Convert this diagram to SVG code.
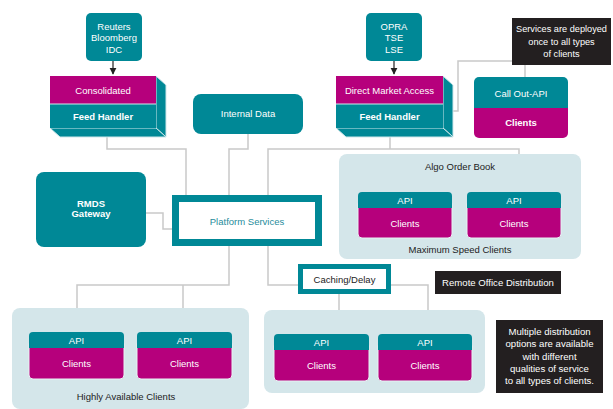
<svg xmlns="http://www.w3.org/2000/svg" width="613" height="409" viewBox="0 0 613 409">
<defs>
<style>
text{font-family:"Liberation Sans",Arial,sans-serif;text-anchor:middle}
.t{fill:#008896}
.m{fill:#b6007c}
.w{fill:#fff;font-size:9.5px}
.ws{fill:#fff;font-size:9.2px}
.wr{fill:#fff;font-size:9.6px}
.wb{fill:#fff;font-size:9.5px;font-weight:bold}
.d{fill:#222;font-size:9.5px}
.blk{fill:#231f20}
.cont{fill:#d4e6ea}
.ext{fill:#008896;stroke:#cfe7eb;stroke-width:1}
.c{fill:none;stroke:#c9c9c9;stroke-width:1.5}
.bx{stroke:#e8f2f4;stroke-width:1}
</style>
<marker id="ah" viewBox="0 0 10 10" refX="9" refY="5" markerWidth="6" markerHeight="6" orient="auto"><path d="M0,0L10,5L0,10z" fill="#222"/></marker>
</defs>
<rect width="613" height="409" fill="#fff"/>

<g id="connectors">
<path class="c" d="M107,137V149H186V195"/>
<path class="c" d="M248,134V149H229V195"/>
<path class="c" d="M519,154V149H268V285H298"/>
<path class="c" d="M390,137V149"/>
<path class="c" d="M453,111H458V61H512"/>
<path class="c" d="M525,65V77"/>
<path class="c" d="M146,213H163V229H172"/>
<path class="c" d="M229,246V285H77V332"/>
<path class="c" d="M183,285V332"/>
<path class="c" d="M339,294V312H318V334"/>
<path class="c" d="M391,285H428V334"/>
<path d="M113,61V74" stroke="#222" stroke-width="1.2" marker-end="url(#ah)"/>
<path d="M394,61V74" stroke="#222" stroke-width="1.2" marker-end="url(#ah)"/>
</g>

<g id="reuters">
<rect class="t" x="86" y="13" width="56" height="48" rx="5"/>
<text class="w" x="114" y="29.5">Reuters</text>
<text class="w" x="114" y="41">Bloomberg</text>
<text class="w" x="114" y="52.5">IDC</text>
</g>

<g id="consolidated">
<polygon class="ext" points="156,76 166,85 166,137 156,128"/>
<polygon class="ext" points="50,128 156,128 166,137 60,137"/>
<rect class="m" x="50" y="76" width="106" height="28"/>
<rect class="t" x="50" y="104" width="106" height="24"/>
<line x1="50" y1="104" x2="156" y2="104" stroke="#cfe7eb" stroke-width="1"/>
<text class="w" x="103" y="93.5">Consolidated</text>
<text class="wb" x="103" y="119.5">Feed Handler</text>
</g>

<g id="internal">
<rect class="t" x="193" y="94" width="110" height="40" rx="8"/>
<text class="w" x="248" y="116.5">Internal Data</text>
</g>

<g id="opra">
<rect class="t" x="366" y="13" width="56" height="48" rx="5"/>
<text class="w" x="394" y="29.5">OPRA</text>
<text class="w" x="394" y="41">TSE</text>
<text class="w" x="394" y="52.5">LSE</text>
</g>

<g id="dma">
<polygon class="ext" points="443,76 453,85 453,137 443,128"/>
<polygon class="ext" points="336,128 443,128 453,137 346,137"/>
<rect class="m" x="336" y="76" width="107" height="28"/>
<rect class="t" x="336" y="104" width="107" height="24"/>
<line x1="336" y1="104" x2="443" y2="104" stroke="#cfe7eb" stroke-width="1"/>
<text class="w" x="389.5" y="93.5">Direct Market Access</text>
<text class="wb" x="389.5" y="119.5">Feed Handler</text>
</g>

<g id="note-services">
<rect class="blk" x="512" y="18" width="99" height="47"/>
<text class="ws" x="561.5" y="32">Services are deployed</text>
<text class="ws" x="561.5" y="44.5">once to all types</text>
<text class="ws" x="561.5" y="57">of clients</text>
</g>

<g id="callout">
<rect class="m" x="474" y="100" width="94" height="38" rx="5"/>
<path class="t" d="M479,77H563A5,5 0 0 1 568,82V108H474V82A5,5 0 0 1 479,77Z"/>
<text class="w" x="521" y="96.5">Call Out-API</text>
<text class="wb" x="521" y="125.5">Clients</text>
</g>

<g id="rmds">
<rect class="t" x="36" y="172" width="110" height="75" rx="8"/>
<text class="wb" x="91" y="206.5">RMDS</text>
<text class="wb" x="91" y="217">Gateway</text>
</g>

<g id="platform">
<rect x="175.5" y="198.5" width="143" height="44" fill="#fff" stroke="#008896" stroke-width="7"/>
<text x="247" y="224.5" font-size="9.5" fill="#1f8c9c">Platform Services</text>
</g>

<g id="algo">
<rect class="cont" x="339" y="154" width="242" height="105" rx="8"/>
<text class="d" x="460" y="169.5">Algo Order Book</text>
<text class="d" x="460" y="252.5">Maximum Speed Clients</text>
<rect class="m bx" x="358" y="200" width="94" height="38" rx="4"/>
<path class="t" d="M362,192H448A4,4 0 0 1 452,196V208H358V196A4,4 0 0 1 362,192Z"/>
<text class="w" x="405" y="204">API</text>
<text class="w" x="405" y="226.5">Clients</text>
<rect class="m bx" x="467" y="200" width="94" height="38" rx="4"/>
<path class="t" d="M471,192H557A4,4 0 0 1 561,196V208H467V196A4,4 0 0 1 471,192Z"/>
<text class="w" x="514" y="204">API</text>
<text class="w" x="514" y="226.5">Clients</text>
</g>

<g id="caching">
<rect x="300.5" y="266.5" width="88" height="25" fill="#fff" stroke="#008896" stroke-width="5"/>
<text class="d" x="344.5" y="282.5">Caching/Delay</text>
</g>

<g id="note-remote">
<rect class="blk" x="435" y="271" width="126" height="23"/>
<text class="wr" x="498" y="286">Remote Office Distribution</text>
</g>

<g id="highly">
<rect class="cont" x="12" y="308" width="237" height="101" rx="8"/>
<rect class="m bx" x="29" y="340" width="95" height="39" rx="4"/>
<path class="t" d="M33,332H120A4,4 0 0 1 124,336V348H29V336A4,4 0 0 1 33,332Z"/>
<text class="w" x="76.5" y="344">API</text>
<text class="w" x="76.5" y="366.5">Clients</text>
<rect class="m bx" x="137" y="340" width="95" height="39" rx="4"/>
<path class="t" d="M141,332H228A4,4 0 0 1 232,336V348H137V336A4,4 0 0 1 141,332Z"/>
<text class="w" x="184.5" y="344">API</text>
<text class="w" x="184.5" y="366.5">Clients</text>
<text class="d" x="126" y="399.5">Highly Available Clients</text>
</g>

<g id="remote-clients">
<rect class="cont" x="264" y="310" width="221" height="83" rx="8"/>
<rect class="m bx" x="274" y="342" width="95" height="39" rx="4"/>
<path class="t" d="M278,334H365A4,4 0 0 1 369,338V350H274V338A4,4 0 0 1 278,334Z"/>
<text class="w" x="321.5" y="346">API</text>
<text class="w" x="321.5" y="368.5">Clients</text>
<rect class="m bx" x="378" y="342" width="94" height="39" rx="4"/>
<path class="t" d="M382,334H468A4,4 0 0 1 472,338V350H378V338A4,4 0 0 1 382,334Z"/>
<text class="w" x="425" y="346">API</text>
<text class="w" x="425" y="368.5">Clients</text>
</g>

<g id="note-multiple">
<rect class="blk" x="496" y="320" width="107" height="73"/>
<text class="wr" x="549.5" y="334.5">Multiple distribution</text>
<text class="wr" x="549.5" y="347">options are available</text>
<text class="wr" x="549.5" y="359.5">with different</text>
<text class="wr" x="549.5" y="371.5">qualities of service</text>
<text class="wr" x="549.5" y="384">to all types of clients.</text>
</g>
</svg>
